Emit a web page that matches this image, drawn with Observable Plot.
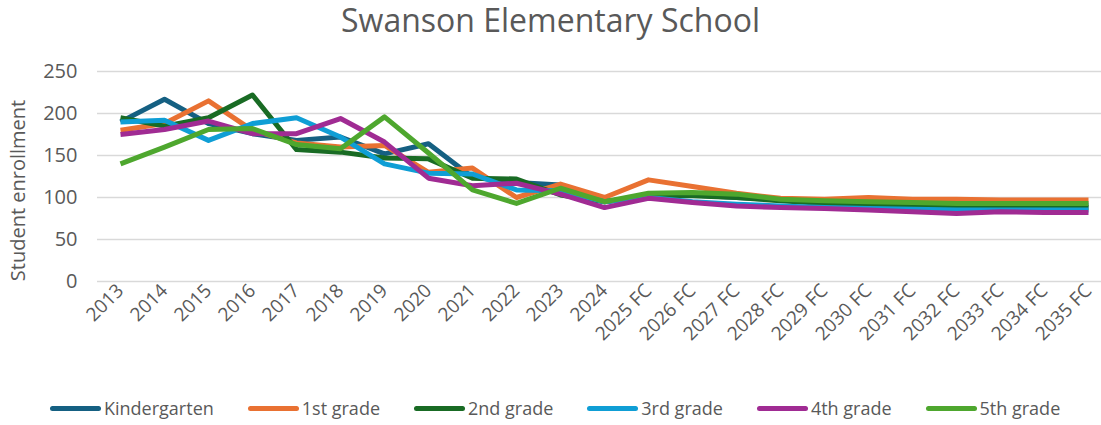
<!DOCTYPE html>
<html>
<head>
<meta charset="utf-8">
<script src="https://cdn.jsdelivr.net/npm/d3@7"></script>
<script src="https://cdn.jsdelivr.net/npm/@observablehq/plot@0.6"></script>
<style>
  html, body { margin: 0; padding: 0; background: #fff; }
  body { width: 1101px; height: 425px; overflow: hidden; font-family: "Open Sans", sans-serif; color: #595959; }
  #title { height: 45px; line-height: 40px; text-align: center; font-size: 32px; color: #595959; }
  #chart { height: 340px; }
  #legend { display: flex; justify-content: flex-start; align-items: center; padding-left: 50px; height: 46px; font-size: 18px; color: #595959; }
  .item { display: flex; align-items: center; margin-right: 34px; white-space: nowrap; }
  .sw { width: 51px; height: 5px; border-radius: 3px; margin-right: 3px; }
</style>
</head>
<body>
<div id="title">Swanson Elementary School</div>
<div id="chart"></div>
<div id="legend"></div>
<script>
const years = ["2013","2014","2015","2016","2017","2018","2019","2020","2021","2022","2023","2024",
  "2025 FC","2026 FC","2027 FC","2028 FC","2029 FC","2030 FC","2031 FC","2032 FC","2033 FC","2034 FC","2035 FC"];
const seriesNames = ["Kindergarten","1st grade","2nd grade","3rd grade","4th grade","5th grade"];
const seriesColors = ["#156082","#E97132","#196B24","#0F9ED5","#A02B93","#4EA72E"];
const yTicks = [0, 50, 100, 150, 200, 250];

const kindergarten = [190,217,188,176,168,172,152,164,124,118,115,95,102,103,100,97,96,94,93,92,92,91,91];
const grade1 = [180,188,215,180,165,160,162,130,135,100,116,100,121,113,105,99,98,100,98,98,97,97,97];
const grade2 = [195,185,195,222,157,154,147,146,123,122,103,95,102,102,100,96,93,91,89,88,88,88,88];
const grade3 = [190,192,168,188,195,172,140,129,128,109,108,95,100,95,92,90,88,87,86,85,85,85,85];
const grade4 = [175,181,191,176,176,194,166,123,114,117,104,88,99,94,90,88,87,85,83,81,83,82,82];
const grade5 = [140,160,181,182,163,158,196,153,109,93,111,95,105,106,104,98,96,95,94,93,93,93,93];

const allSeries = [kindergarten, grade1, grade2, grade3, grade4, grade5];
const data = [];
allSeries.forEach((vals, i) => vals.forEach((v, j) => data.push({series: seriesNames[i], year: years[j], value: v})));

const chart = Plot.plot({
  width: 1101,
  height: 340,
  marginLeft: 97,
  marginRight: 0,
  marginTop: 26,
  marginBottom: 104,
  style: {fontFamily: "Open Sans, sans-serif", fontSize: "19px", color: "#595959", background: "white", overflow: "visible"},
  x: {type: "point", domain: years, range: [118, 1090], padding: 0, label: null},
  y: {domain: [0, 250], label: null},
  color: {domain: seriesNames, range: seriesColors},
  marks: [
    Plot.gridY(yTicks, {stroke: "#d9d9d9", strokeOpacity: 1, strokeWidth: 1.3}),
    Plot.axisY(yTicks, {tickSize: 0, tickPadding: 20, label: null, fontSize: 20}),
    Plot.text(["Student enrollment"], {frameAnchor: "left", textAnchor: "middle", lineAnchor: "middle", rotate: -90, dx: -79, dy: 14, fontSize: 20, fill: "#595959"}),
    Plot.axisX({tickSize: 0, tickRotate: -45, tickPadding: 6, label: null, fontSize: 19}),
    Plot.line(data, {x: "year", y: "value", z: "series", stroke: "series", strokeWidth: 5, strokeLinejoin: "round", strokeLinecap: "butt"})
  ]
});
document.getElementById("chart").appendChild(chart);

const legend = document.getElementById("legend");
seriesNames.forEach((name, i) => {
  const item = document.createElement("div");
  item.className = "item";
  const sw = document.createElement("div");
  sw.className = "sw";
  sw.style.background = seriesColors[i];
  const t = document.createElement("span");
  t.textContent = name;
  item.appendChild(sw);
  item.appendChild(t);
  legend.appendChild(item);
});
</script>
</body>
</html>
